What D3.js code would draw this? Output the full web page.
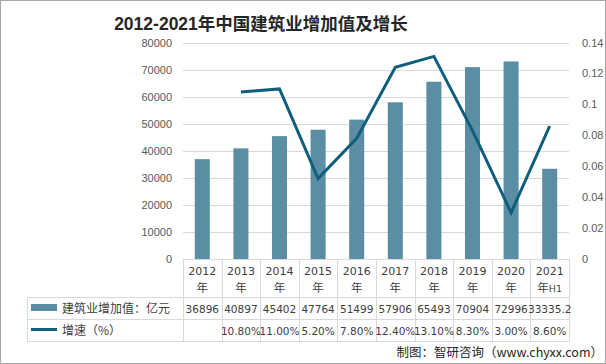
<!DOCTYPE html>
<html><head><meta charset="utf-8">
<script src="https://cdn.jsdelivr.net/npm/d3@7"></script>
<style>
html,body{margin:0;padding:0;background:#fff;}
svg{display:block;}
</style>
</head><body>
<script>
const years = ["2012","2013","2014","2015","2016","2017","2018","2019","2020","2021"];
const yearSuffix = ["年","年","年","年","年","年","年","年","年","年H1"];
const values = [36896, 40897, 45402, 47764, 51499, 57906, 65493, 70904, 72996, 33335.2];
const valueLabels = ["36896","40897","45402","47764","51499","57906","65493","70904","72996","33335.2"];
const growth = [null, 0.108, 0.110, 0.052, 0.078, 0.124, 0.131, 0.083, 0.030, 0.086];
const growthLabels = ["","10.80%","11.00%","5.20%","7.80%","12.40%","13.10%","8.30%","3.00%","8.60%"];
const leftTicks = [0,10000,20000,30000,40000,50000,60000,70000,80000];
const rightTicks = [0,0.02,0.04,0.06,0.08,0.1,0.12,0.14];
const seriesNames = ["建筑业增加值：亿元","增速（%）"];
const titleNum = "2012-2021";
const titleText = "年中国建筑业增加值及增长";
const source = "制图：智研咨询（www.chyxx.com）";

const W = 606, H = 364;
const L = 183, R = 569, T = 42.5, B = 259;
const barColor = "#5b8ea4", lineColor = "#0f5e7d", gridColor = "#d9d9d9";
const tickFont = "'Liberation Sans', Arial, sans-serif";
const cjk = "'Noto Sans CJK SC', 'DejaVu Sans', sans-serif";

const svg = d3.select("body").append("svg").attr("width", W).attr("height", H);
svg.append("rect").attr("x",0.5).attr("y",0.5).attr("width",W-1).attr("height",H-1)
  .attr("fill","#fff").attr("stroke","#a6a6a6");

const tt = svg.append("text").attr("x", 261).attr("y", 30).attr("text-anchor","middle")
  .attr("font-weight","bold").attr("fill","#262626");
tt.append("tspan").attr("font-family", tickFont).attr("font-size", 17.5).text(titleNum);
tt.append("tspan").attr("font-family", cjk).attr("font-size", 17.5).text(titleText);

const x = d3.scaleBand().domain(years).range([L, R]).paddingInner(0).paddingOuter(0);
const y = d3.scaleLinear().domain([0, 80000]).range([B, T]);
const y2 = d3.scaleLinear().domain([0, 0.14]).range([B, T]);

// grid
svg.append("g").selectAll("line").data(leftTicks).join("line")
  .attr("x1", L).attr("x2", R).attr("y1", d => Math.round(y(d))+0.5).attr("y2", d => Math.round(y(d))+0.5)
  .attr("stroke", gridColor).attr("stroke-width",1);

// left axis
const ya = d3.axisLeft(y).tickValues(leftTicks).tickSize(0).tickPadding(11).tickFormat(d3.format("d"));
const gL = svg.append("g").attr("transform", `translate(${L},0)`).call(ya);
gL.select(".domain").remove();
gL.selectAll("text").attr("font-family", tickFont).attr("font-size", 11).attr("fill","#595959");

// right axis
const yb = d3.axisRight(y2).tickValues(rightTicks).tickSize(0).tickPadding(13).tickFormat(d => d===0 ? "0" : String(+d.toFixed(2)));
const gR = svg.append("g").attr("transform", `translate(${R},0)`).call(yb);
gR.select(".domain").remove();
gR.selectAll("text").attr("font-family", tickFont).attr("font-size", 11).attr("fill","#595959");

// bars
const bw = x.bandwidth()*0.39;
svg.append("g").selectAll("rect").data(values).join("rect")
  .attr("x", (d,i) => x(years[i]) + x.bandwidth()/2 - bw/2)
  .attr("y", d => y(d)).attr("width", bw).attr("height", d => B - y(d))
  .attr("fill", barColor);

// line
const line = d3.line().defined(d => d[1] !== null)
  .x(d => x(d[0]) + x.bandwidth()/2).y(d => y2(d[1]));
svg.append("path").datum(years.map((yr,i) => [yr, growth[i]]))
  .attr("d", line).attr("fill","none").attr("stroke", lineColor).attr("stroke-width", 3)
  .attr("stroke-linejoin","miter");

// table
const r0 = B, r1 = 297.5, r2 = 319.5, r3 = 341.5, LL = 27.5;
const tg = svg.append("g").attr("stroke", gridColor).attr("stroke-width",1);
tg.append("line").attr("x1", L).attr("x2", R).attr("y1", r0+0.5).attr("y2", r0+0.5);
[r1, r2, r3].forEach(r => tg.append("line").attr("x1", LL).attr("x2", R).attr("y1", r).attr("y2", r));
const bounds = years.map(yr => x(yr)).concat([R]);
bounds.forEach(b => tg.append("line").attr("x1", Math.round(b)+0.5).attr("x2", Math.round(b)+0.5).attr("y1", r0).attr("y2", r3));
tg.append("line").attr("x1", LL).attr("x2", LL).attr("y1", r1).attr("y2", r3);

const tf = "'DejaVu Sans', sans-serif";
const tcol = "#404040";
const hdr = svg.append("g").attr("font-family", cjk).attr("font-size", 11.5).attr("fill", tcol).attr("text-anchor","middle");
years.forEach((yr,i) => {
  const cx = x(yr) + x.bandwidth()/2;
  hdr.append("text").attr("x", cx).attr("y", 275).attr("font-family", tf).attr("font-size", 11).text(yr);
  const t = hdr.append("text").attr("x", cx).attr("y", 292);
  if (yearSuffix[i] === "年H1") {
    t.append("tspan").text("年");
    t.append("tspan").attr("font-family", tf).attr("font-size", 9.5).text("H1");
  } else t.text(yearSuffix[i]);
});
const rowY1 = 312.5, rowY2 = 334.5;
const dg = svg.append("g").attr("font-family", tf).attr("font-size", 10.5).attr("fill", tcol).attr("text-anchor","middle");
years.forEach((yr,i) => {
  const cx = x(yr) + x.bandwidth()/2;
  dg.append("text").attr("x", cx).attr("y", rowY1).text(valueLabels[i]);
  dg.append("text").attr("x", cx).attr("y", rowY2).text(growthLabels[i]);
});

// legend keys
svg.append("rect").attr("x", 31).attr("y", 304).attr("width", 26).attr("height", 7).attr("fill", barColor);
svg.append("line").attr("x1", 31).attr("x2", 57).attr("y1", 329.5).attr("y2", 329.5).attr("stroke", lineColor).attr("stroke-width", 3);
svg.append("text").attr("x", 62).attr("y", 313).attr("font-family", cjk).attr("font-size", 12).attr("fill", tcol).text(seriesNames[0]);
svg.append("text").attr("x", 62).attr("y", 335).attr("font-family", cjk).attr("font-size", 12).attr("fill", tcol).text(seriesNames[1]);

// source
svg.append("text").attr("x", 603).attr("y", 357).attr("text-anchor","end")
  .attr("font-family", cjk).attr("font-size", 12.5).attr("fill","#262626").text(source);
</script>
</body></html>
